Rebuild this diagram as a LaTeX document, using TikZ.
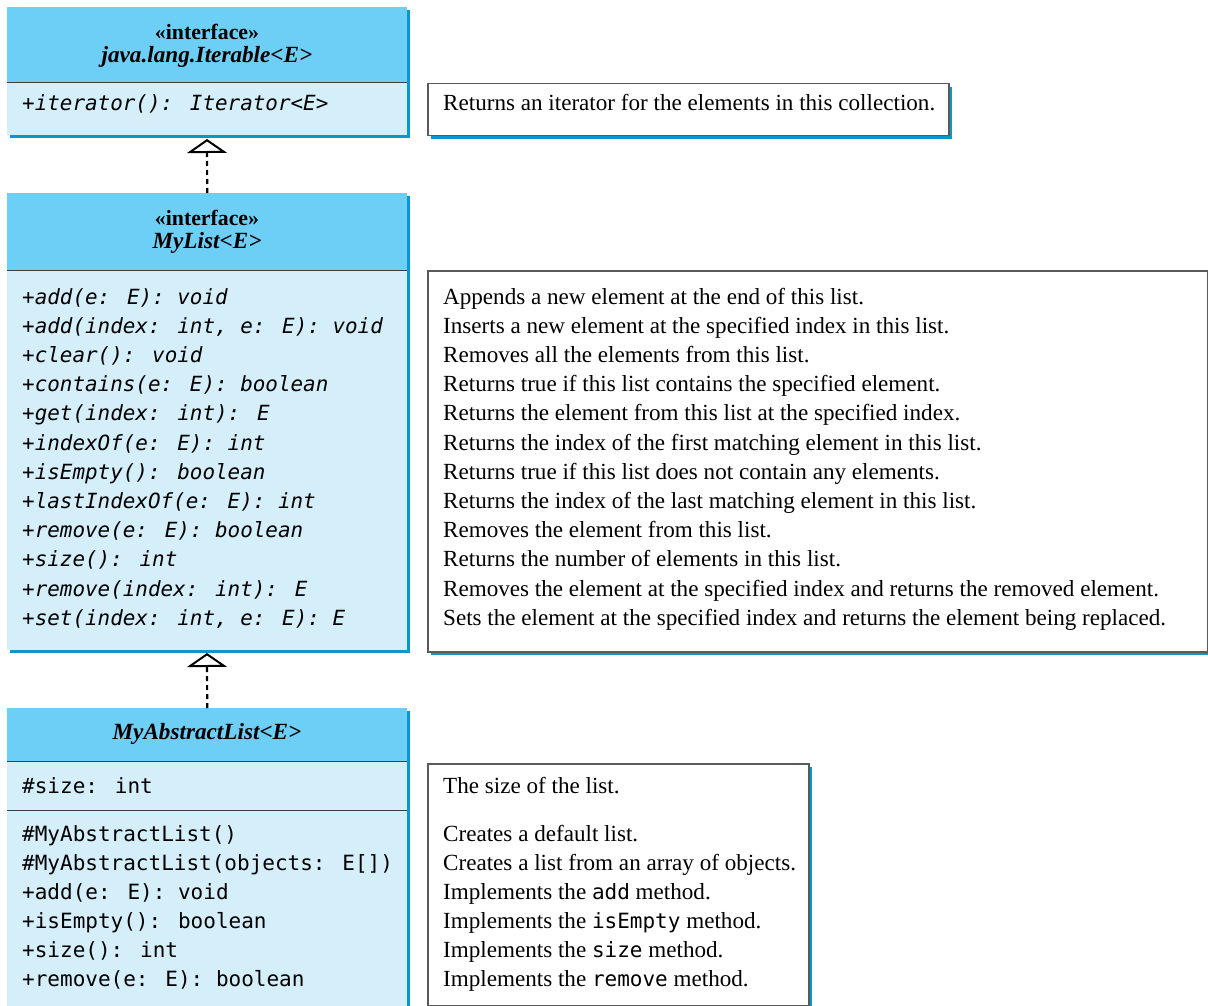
\documentclass[tikz,border=0pt]{standalone}
\usepackage{fontspec}
\setmainfont{Liberation Serif}
\newfontfamily\codefont{DejaVu Sans Mono}
\usetikzlibrary{arrows.meta,shadows}
\definecolor{headblue}{HTML}{6DCFF6}
\definecolor{bodyblue}{HTML}{D4EEFA}
\definecolor{shadowblue}{HTML}{0A97C9}
\definecolor{divgray}{HTML}{404040}
\definecolor{descgray}{HTML}{5A5A5A}
\tikzset{
  myshadow/.style={general shadow={fill=shadowblue, shadow xshift=3pt, shadow yshift=-3pt}},
  headbox/.style={rectangle, fill=headblue, draw=none, myshadow, anchor=north west, inner sep=0pt, align=center},
  bodybox/.style={rectangle, fill=bodyblue, draw=none, myshadow, anchor=north west, inner sep=0pt},
  descbox/.style={rectangle, fill=white, draw=descgray, line width=1.5pt, myshadow, anchor=north west, inner sep=0pt},
  divider/.style={draw=divgray, line width=1.2pt},
  code/.style={anchor=base west, inner sep=0pt, font=\codefont\fontsize{21}{25}\selectfont},
  icode/.style={code, font=\codefont\fontsize{20.9}{25}\selectfont\itshape},
  desc/.style={anchor=base west, inner sep=0pt, font=\fontsize{23.1}{26}\selectfont},
  stereo/.style={inner sep=0pt, font=\fontsize{21.8}{24}\selectfont\bfseries},
  cname/.style={inner sep=0pt, font=\fontsize{23.2}{26}\selectfont\bfseries\itshape},
  realize/.style={draw=black, line width=2.2pt, dash pattern=on 5pt off 4pt,
    -{Triangle[open, length=14pt, width=40pt, line width=2pt, fill=white]}},
}
\newcommand{\ctt}[1]{{\codefont\fontsize{21}{25}\selectfont #1}}
\begin{document}
\begin{tikzpicture}[x=1pt,y=-1pt]
\clip (0,0) rectangle (1208,1006);
\fill[white] (0,0) rectangle (1208,1006);

% ---------- Iterable ----------
\node[headbox, minimum width=400pt, minimum height=75pt] (iterH) at (7,7) {};
\node[bodybox, minimum width=400pt, minimum height=53pt] (iterB) at (7,82) {};
\draw[divider] (iterH.south west) -- (iterH.south east);
\node[stereo] (iterS) at (207,32) {«interface»};
\node[cname] (iterN) at (207,57) {java.lang.Iterable<E>};
\node[icode] (iterM) at (22,111) {+iterator(): Iterator<E>};

\node[descbox, minimum width=521pt, minimum height=52pt] (d1) at (427,83) {};
\node[desc] (d1t) at (443,111) {Returns an iterator for the elements in this collection.};

% ---------- MyList ----------
\node[headbox, minimum width=400pt, minimum height=77pt] (listH) at (7,193) {};
\node[bodybox, minimum width=400pt, minimum height=380pt] (listB) at (7,270) {};
\draw[divider] (listH.south west) -- (listH.south east);
\node[stereo] (listS) at (207,218) {«interface»};
\node[cname] (listN) at (207,243) {MyList<E>};

\foreach \m [count=\i from 0] in {
  {+add(e: E): void},
  {+add(index: int, e: E): void},
  {+clear(): void},
  {+contains(e: E): boolean},
  {+get(index: int): E},
  {+indexOf(e: E): int},
  {+isEmpty(): boolean},
  {+lastIndexOf(e: E): int},
  {+remove(e: E): boolean},
  {+size(): int},
  {+remove(index: int): E},
  {+set(index: int, e: E): E}}
{
  \node[icode] (lm\i) at (22,{304+29.2*\i}) {\m};
}
\node[descbox, minimum width=780pt, minimum height=381pt] (d2) at (427,270) {};
\foreach \d [count=\i from 0] in {
  {Appends a new element at the end of this list.},
  {Inserts a new element at the specified index in this list.},
  {Removes all the elements from this list.},
  {Returns true if this list contains the specified element.},
  {Returns the element from this list at the specified index.},
  {Returns the index of the first matching element in this list.},
  {Returns true if this list does not contain any elements.},
  {Returns the index of the last matching element in this list.},
  {Removes the element from this list.},
  {Returns the number of elements in this list.},
  {Removes the element at the specified index and returns the removed element.},
  {Sets the element at the specified index and returns the element being replaced.}}
{
  \node[desc] (ld\i) at (443,{304+29.2*\i}) {\d};
}

% ---------- MyAbstractList ----------
\node[headbox, minimum width=400pt, minimum height=53pt] (absH) at (7,708) {};
\node[bodybox, minimum width=400pt, minimum height=49pt] (absF) at (7,761) {};
\node[bodybox, minimum width=400pt, minimum height=220pt] (absM) at (7,810) {};
\draw[divider] (absH.south west) -- (absH.south east);
\draw[divider] (absF.south west) -- (absF.south east);
\node[cname] (absN) at (207,734) {MyAbstractList<E>};
\node[code] (af0) at (22,793) {\#size: int};
\foreach \m [count=\i from 0] in {
  {\#MyAbstractList()},
  {\#MyAbstractList(objects: E[])},
  {+add(e: E): void},
  {+isEmpty(): boolean},
  {+size(): int},
  {+remove(e: E): boolean}}
{
  \node[code] (am\i) at (22,{841+29*\i}) {\m};
}

\node[descbox, minimum width=381pt, minimum height=242pt] (d3) at (427,763) {};
\node[desc] (d3f) at (443,793) {The size of the list.};
\foreach \d [count=\i from 0] in {
  {Creates a default list.},
  {Creates a list from an array of objects.},
  {Implements the \ctt{add} method.},
  {Implements the \ctt{isEmpty} method.},
  {Implements the \ctt{size} method.},
  {Implements the \ctt{remove} method.}}
{
  \node[desc] (ad\i) at (443,{841+29*\i}) {\d};
}

% ---------- connectors ----------
\coordinate (tip1) at (207,139);
\coordinate (tip2) at (207,653);
\draw[realize] (listH.north) -- (tip1);
\draw[realize] (absH.north) -- (tip2);
\end{tikzpicture}
\end{document}
